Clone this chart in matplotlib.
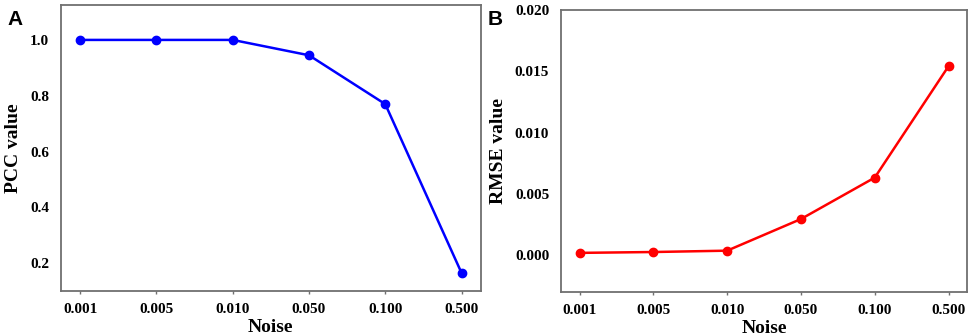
import matplotlib
matplotlib.use("Agg")
import matplotlib.pyplot as plt

noise_labels = ["0.001", "0.005", "0.010", "0.050", "0.100", "0.500"]
pcc_values = [1.0, 1.0, 1.0, 0.945, 0.77, 0.165]
rmse_values = [0.0002, 0.00027, 0.00038, 0.00296, 0.00634, 0.01543]
pcc_ticks = [0.2, 0.4, 0.6, 0.8, 1.0]
rmse_ticks = [0.000, 0.005, 0.010, 0.015, 0.020]

serif = ["Liberation Serif", "DejaVu Serif"]
sans = ["Liberation Sans", "DejaVu Sans"]
spine_col = "#707070"

fig = plt.figure(figsize=(9.69, 3.35), dpi=100)
axA = fig.add_axes([0.063, 0.131, 0.433, 0.854])
axB = fig.add_axes([0.579, 0.128, 0.419, 0.842])

def style(ax, xlabel, ylabel, yticks, fmt):
    x = range(len(noise_labels))
    ax.set_xticks(list(x))
    ax.set_xticklabels(noise_labels, fontfamily=serif, fontweight="bold", fontsize=11)
    ax.set_yticks(yticks)
    ax.set_yticklabels([fmt.format(v) for v in yticks], fontfamily=serif, fontweight="bold", fontsize=11)
    ax.set_xlim(-0.25, len(noise_labels) - 0.75)
    ax.set_xlabel(xlabel, fontfamily=serif, fontweight="bold", fontsize=14, labelpad=2)
    ax.set_ylabel(ylabel, fontfamily=serif, fontweight="bold", fontsize=14, labelpad=6)
    for s in ax.spines.values():
        s.set_color(spine_col)
        s.set_linewidth(1.3)
    ax.tick_params(axis="both", direction="out", length=2.5, width=1, color=spine_col, pad=6)
    ax.tick_params(axis="y", left=False)

xs = list(range(len(noise_labels)))
axA.plot(xs, pcc_values, color="#0000ff", marker="o", markersize=6, linewidth=1.8)
style(axA, "Noise", "PCC value", pcc_ticks, "{:.1f}")
axA.set_ylim(0.1, 1.125)

axB.plot(xs, rmse_values, color="#ff0000", marker="o", markersize=6, linewidth=1.8)
style(axB, "Noise", "RMSE value", rmse_ticks, "{:.3f}")
axB.set_ylim(-0.003, 0.020)

fig.text(0.008, 0.97, "A", fontfamily=sans, fontweight="bold", fontsize=15, va="top", ha="left")
fig.text(0.503, 0.97, "B", fontfamily=sans, fontweight="bold", fontsize=15, va="top", ha="left")

fig.savefig("out.png", dpi=100)
